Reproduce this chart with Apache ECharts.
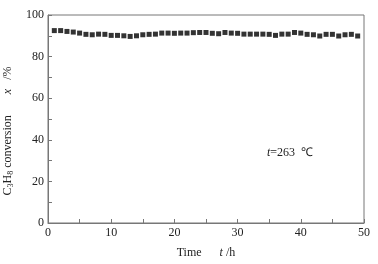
<!DOCTYPE html>
<html>
<head>
<meta charset="utf-8">
<script src="https://cdn.jsdelivr.net/npm/echarts@6/dist/echarts.min.js"></script>
<style>
    html, body { margin: 0; padding: 0; background: #fff; }
    #chart { width: 378px; height: 264px; }
</style>
</head>
<body>
<div id="chart"></div>
<script>
/* ===== 数据 ===== */
const hours = [];
for (let h = 1; h <= 49; h++) hours.push(h);

const conversion = [
    92.5, 92.5, 92.1, 91.8, 91.3, 90.7, 90.5, 90.8, 90.7, 90.2,
    90.2, 90.0, 89.7, 90.0, 90.5, 90.7, 90.8, 91.3, 91.3, 91.2,
    91.3, 91.3, 91.5, 91.6, 91.6, 91.2, 91.0, 91.6, 91.3, 91.2,
    90.8, 90.8, 90.8, 90.8, 90.7, 90.2, 90.8, 90.8, 91.6, 91.3,
    90.7, 90.5, 89.9, 90.7, 90.7, 89.9, 90.5, 90.7, 89.9
];

const xTicks = [0, 10, 20, 30, 40, 50];
const yTicks = [0, 20, 40, 60, 80, 100];

/* ===== 样式 ===== */
const FONT = "Liberation Serif";
const TEXT = "#222";
const LINE = "#777";

const chart = echarts.init(document.getElementById("chart"));

chart.setOption({
    animation: false,
    grid: {
        left: 48, right: 14, top: 15, bottom: 41,
        outerBoundsMode: "none",
        containLabel: false,
        show: true, borderColor: LINE, borderWidth: 1
    },
    xAxis: {
        type: "value",
        min: xTicks[0], max: xTicks[xTicks.length - 1], interval: 10,
        axisLine: { lineStyle: { color: LINE } },
        axisTick: { inside: true, length: 4, lineStyle: { color: LINE } },
        minorTick: { show: true, splitNumber: 2, length: 4, lineStyle: { color: LINE } },
        splitLine: { show: false },
        axisLabel: { fontFamily: FONT, fontSize: 12, color: TEXT, margin: 4 },
        name: "{n|Time}{n|      }{i|t}{n| /h}",
        nameLocation: "middle",
        nameGap: 24,
        nameTextStyle: {
            rich: {
                n: { fontFamily: FONT, fontSize: 12, color: TEXT },
                i: { fontFamily: FONT, fontSize: 12, color: TEXT, fontStyle: "italic" }
            }
        }
    },
    yAxis: {
        type: "value",
        min: yTicks[0], max: yTicks[yTicks.length - 1], interval: 20,
        axisLine: { show: true, lineStyle: { color: LINE } },
        axisTick: { show: true, inside: true, length: 4, lineStyle: { color: LINE } },
        minorTick: { show: true, splitNumber: 2, length: 4, lineStyle: { color: LINE } },
        splitLine: { show: false },
        axisLabel: { fontFamily: FONT, fontSize: 12, color: TEXT, margin: 4 },
        name: "{n|C}{s|3}{n|H}{s|8}{n| conversion       }{i|x}{n|   /%}",
        nameLocation: "middle",
        nameRotate: 90,
        nameGap: 28,
        nameTextStyle: {
            padding: [0, 24, 0, 0],
            rich: {
                n: { fontFamily: FONT, fontSize: 12, color: TEXT, lineHeight: 14 },
                i: { fontFamily: FONT, fontSize: 12, color: TEXT, fontStyle: "italic", lineHeight: 14 },
                s: { fontFamily: FONT, fontSize: 8, color: TEXT, verticalAlign: "bottom", lineHeight: 14, padding: [6, 0, 0, 0] }
            }
        }
    },
    series: [{
        type: "scatter",
        data: hours.map((h, i) => [h, conversion[i]]),
        symbol: "rect",
        symbolSize: 5,
        itemStyle: { color: "#000" }
    }],
    graphic: [{
        type: "text",
        left: 267, top: 147,
        style: {
            text: "{i|t}{n|=263  ℃}",
            rich: {
                n: { fontFamily: FONT, fontSize: 12, fill: TEXT },
                i: { fontFamily: FONT, fontSize: 12, fill: TEXT, fontStyle: "italic" }
            }
        }
    }]
});
</script>
</body>
</html>
